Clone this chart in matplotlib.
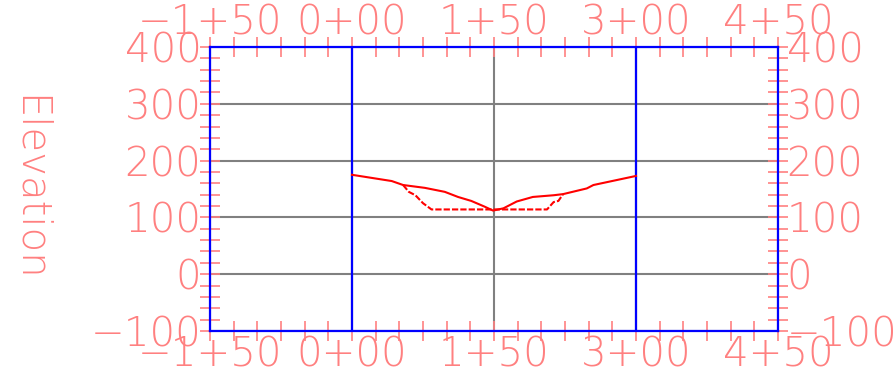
import matplotlib
matplotlib.use('Agg')
import matplotlib.pyplot as plt
from matplotlib.ticker import MultipleLocator, FuncFormatter

# Perfil do terreno (estação, cota)
terreno_x = [0, 42, 54, 77, 98, 112, 126, 140, 149, 160, 174, 191, 213, 223, 248, 255, 300]
terreno_y = [175, 164, 157, 152, 145, 136, 129, 119, 112, 116, 128, 136, 139, 141, 151, 157, 173]

# Seção de projeto (corte)
projeto_x = [54, 60, 67, 75, 84, 206, 213, 218, 223]
projeto_y = [157, 145, 139, 125, 114, 114, 127, 129, 141]

estacoes_limite = [0, 300]

cor_texto = '#ff8080'

plt.rcParams['font.family'] = ['DejaVu Sans']
plt.rcParams['font.weight'] = 200


def estaca(v, pos):
    # formato de estaca: -150 -> −1+50
    v = int(round(v))
    sinal = '\u2212' if v < 0 else ''
    v = abs(v)
    return f'{sinal}{v // 100}+{v % 100:02d}'


def cota(v, pos):
    v = int(round(v))
    return f'\u2212{abs(v)}' if v < 0 else f'{v}'


fig = plt.figure(figsize=(8.96, 3.79), dpi=100)
ax = fig.add_axes([210 / 896, 48 / 379, 568 / 896, 284 / 379])

ax.set_xlim(-150, 450)
ax.set_ylim(-100, 400)

ax.xaxis.set_major_locator(MultipleLocator(150))
ax.xaxis.set_minor_locator(MultipleLocator(25))
ax.yaxis.set_major_locator(MultipleLocator(100))
ax.yaxis.set_minor_locator(MultipleLocator(20))
ax.xaxis.set_major_formatter(FuncFormatter(estaca))
ax.yaxis.set_major_formatter(FuncFormatter(cota))

ax.grid(True, which='major', color='#808080', linewidth=1.5, zorder=1)
for xv in estacoes_limite:
    ax.axvline(xv, color='#0000ff', linewidth=1.6, zorder=2)

ax.plot(terreno_x, terreno_y, color='#ff0000', linewidth=1.5, zorder=3)
ax.plot(projeto_x, projeto_y, color='#ff0000', linewidth=1.5, dashes=(3, 1), zorder=3)

for s in ax.spines.values():
    s.set_color('#0000ff')
    s.set_linewidth(1.6)

ax.tick_params(which='both', direction='inout', length=14.4, width=1.2, color=cor_texto,
               top=True, right=True, labeltop=True, labelright=True,
               labelsize=29, labelcolor=cor_texto)
ax.tick_params(axis='x', pad=-4)
ax.tick_params(axis='y', pad=-1)

fig.text(29 / 896, 1 - 188 / 379, 'Elevation', fontsize=29, color=cor_texto,
         rotation=270, ha='center', va='center')

fig.savefig('out.png', dpi=100)
